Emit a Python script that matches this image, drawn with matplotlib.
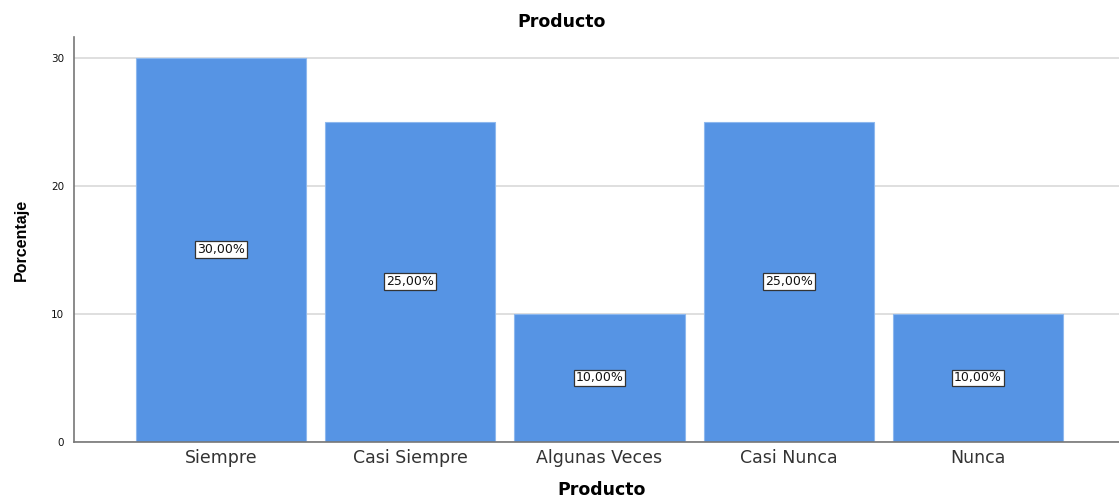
import matplotlib.pyplot as plt

plt.rcParams['font.family'] = ['DejaVu Sans']

categorias = ["Siempre", "Casi Siempre", "Algunas Veces", "Casi Nunca", "Nunca"]
porcentajes = [30.0, 25.0, 10.0, 25.0, 10.0]
yticks = [0, 10, 20, 30]

fig = plt.figure(figsize=(11.19, 4.97), dpi=100)
ax = fig.add_axes([74 / 1119, 55 / 497, 1045 / 1119, 405 / 497])

x = range(len(categorias))
ax.bar(x, porcentajes, width=0.9, color='#5694E4', edgecolor='#8DB8EE',
       linewidth=0.8, zorder=2)

for i, v in zip(x, porcentajes):
    ax.text(i, v / 2, f"{v:.2f}%".replace(".", ","), ha='center', va='center',
            fontsize=9, color='#111111', zorder=3,
            bbox=dict(boxstyle='square,pad=0.15', fc='white', ec='#333333', lw=0.9))

ax.set_xlim(-0.777, 4.745)
ax.set_ylim(0, 31.6)
ax.set_yticks(yticks)
ax.set_xticks(list(x))
ax.set_xticklabels(categorias, fontsize=12.5, color='#333333')
ax.tick_params(axis='y', length=0, labelsize=7.5, pad=7, labelcolor='#111111')
ax.tick_params(axis='x', length=0, pad=5)
ax.grid(axis='y', color='#D9D9D9', linewidth=1.2, zorder=0)

for s in ['top', 'right']:
    ax.spines[s].set_visible(False)
for s in ['left', 'bottom']:
    ax.spines[s].set_color('#777777')
    ax.spines[s].set_linewidth(1.2)

fig.text(562 / 1119, 1 - 22 / 497, "Producto", fontsize=12.5, fontweight='bold',
         ha='center', va='center')
ax.set_xlabel("Producto", fontsize=12.5, fontweight='bold', va='center')
ax.xaxis.set_label_coords(0.505, -0.1185)
ax.set_ylabel("Porcentaje", fontsize=11.5, fontweight='bold', va='center',
              family='Liberation Sans', fontstretch='condensed')
ax.yaxis.set_label_coords(-0.05, 0.5)

fig.savefig("out.png", dpi=100)
